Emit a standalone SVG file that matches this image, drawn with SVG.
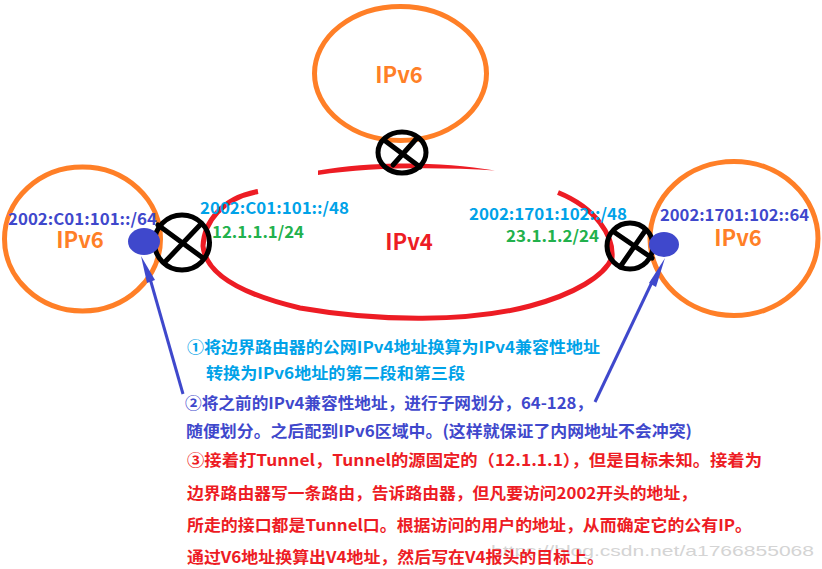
<svg xmlns="http://www.w3.org/2000/svg" width="822" height="569" viewBox="0 0 822 569">
<style>
text{font-family:"Noto Sans CJK SC","Noto Sans",sans-serif;font-weight:700}
.v6{fill:none;stroke:#ff7f27;stroke-width:5}
.v4{fill:none;stroke:#ed1c24;stroke-width:5}
.x{fill:none;stroke:#000;stroke-width:5}
.xl{stroke:#000;stroke-width:5;stroke-linecap:round}
.dot{fill:#3f48cc}
.lbl6{fill:#ff7f27;font-size:22px}
.blue{fill:#00a2e8;font-size:16px}
.green{fill:#22b14c;font-size:16px}
.ind{fill:#3f48cc;font-size:16px}
.red{fill:#ed1c24;font-size:16px}
.arrow{stroke:#3f48cc;stroke-width:3;fill:none}
.head{fill:#3f48cc}
</style>
<rect width="822" height="569" fill="#fff"/>
<text x="491" y="556" textLength="323" lengthAdjust="spacingAndGlyphs" style="font-family:'Liberation Sans',sans-serif;font-weight:400;font-size:15px;fill:#d4d4d4">https://blog.csdn.net/a1766855068</text>
<g id="ipv4-cloud">
<path class="v4" d="M258 191.500C222 198 204 222 203 246C205 268 228 291 300 308C380 322 470 322 530 306C575 294 604 276 612 258C614 236 596 208 558 192.500"/>
<path d="M318 170.500C370 161 440 161 495 170.500C440 167 370 167 318 175Z" fill="#ed1c24"/>
<text x="409" y="250" text-anchor="middle" style="fill:#ed1c24;font-size:22px">IPv4</text>
</g>
<g id="ipv6-top">
<ellipse class="v6" cx="400.500" cy="73.500" rx="86" ry="67"/>
<text class="lbl6" x="399" y="83" text-anchor="middle">IPv6</text>
</g>
<g id="ipv6-left">
<ellipse class="v6" cx="82.500" cy="239" rx="78" ry="72"/>
<text class="lbl6" x="80" y="248" text-anchor="middle">IPv6</text>
<text class="ind" x="8" y="225" textLength="149" lengthAdjust="spacingAndGlyphs">2002:C01:101::/64</text>
</g>
<g id="ipv6-right">
<ellipse class="v6" cx="734" cy="238.500" rx="84" ry="77"/>
<text class="lbl6" x="738" y="246" text-anchor="middle">IPv6</text>
<text class="ind" x="660" y="221" textLength="149" lengthAdjust="spacingAndGlyphs">2002:1701:102::64</text>
</g>
<g id="router-top">
<ellipse class="x" cx="402" cy="152.500" rx="24" ry="20.500"/>
<path class="xl" d="M384 140L420 167M417 138L393 165"/>
</g>
<g id="router-left">
<circle class="x" cx="182" cy="242.500" r="27.500"/>
<path class="xl" d="M158 225L203 258M200 225L164 263"/>
</g>
<g id="router-right">
<circle class="x" cx="630" cy="246" r="23"/>
<path class="xl" d="M614 232L652 258M645 231L620 267"/>
</g>
<g id="dots">
<ellipse class="dot" cx="144" cy="241.500" rx="16" ry="13.500"/>
<ellipse class="dot" cx="664" cy="244.500" rx="15" ry="12.500"/>
</g>
<g id="connectors">
<path class="arrow" d="M183 394L149 275"/>
<path class="head" d="M141 256L155 280L147 283Z"/>
<path class="arrow" d="M595 402L653 280"/>
<path class="head" d="M665 258L656 287L649 283Z"/>
</g>
<g id="labels">
<text class="blue" x="200" y="214" textLength="149" lengthAdjust="spacingAndGlyphs">2002:C01:101::/48</text>
<text class="green" x="212" y="238" textLength="92" lengthAdjust="spacingAndGlyphs">12.1.1.1/24</text>
<text class="blue" x="469" y="220" textLength="158" lengthAdjust="spacingAndGlyphs">2002:1701:102::/48</text>
<text class="green" x="506" y="242" textLength="93" lengthAdjust="spacingAndGlyphs">23.1.1.2/24</text>
</g>
<g id="notes">
<text class="blue" x="187" y="353" textLength="413" lengthAdjust="spacingAndGlyphs">①将边界路由器的公网IPv4地址换算为IPv4兼容性地址</text>
<text class="blue" x="206" y="379" textLength="259" lengthAdjust="spacingAndGlyphs">转换为IPv6地址的第二段和第三段</text>
<text class="ind" x="185" y="409" textLength="408" lengthAdjust="spacingAndGlyphs">②将之前的IPv4兼容性地址，进行子网划分，64-128，</text>
<text class="ind" x="186" y="437" textLength="506" lengthAdjust="spacingAndGlyphs">随便划分。之后配到IPv6区域中。(这样就保证了内网地址不会冲突)</text>
<text class="red" x="187" y="466" textLength="575" lengthAdjust="spacingAndGlyphs">③接着打Tunnel，Tunnel的源固定的（12.1.1.1），但是目标未知。接着为</text>
<text class="red" x="187" y="499" textLength="510" lengthAdjust="spacingAndGlyphs">边界路由器写一条路由，告诉路由器，但凡要访问2002开头的地址，</text>
<text class="red" x="187" y="531" textLength="565" lengthAdjust="spacingAndGlyphs">所走的接口都是Tunnel口。根据访问的用户的地址，从而确定它的公有IP。</text>
<text class="red" x="187" y="563" textLength="417" lengthAdjust="spacingAndGlyphs">通过V6地址换算出V4地址，然后写在V4报头的目标上。</text>
</g>
</svg>
